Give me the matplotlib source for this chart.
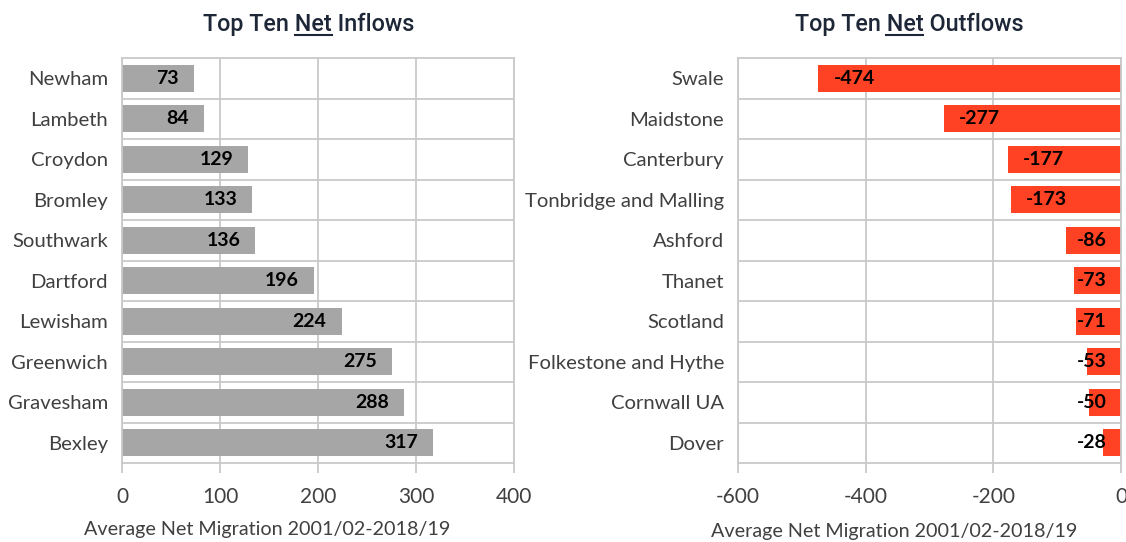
import matplotlib
matplotlib.use("Agg")
import matplotlib.pyplot as plt
import numpy as np

# data
in_names = ["Newham", "Lambeth", "Croydon", "Bromley", "Southwark",
            "Dartford", "Lewisham", "Greenwich", "Gravesham", "Bexley"]
in_vals = [73, 84, 129, 133, 136, 196, 224, 275, 288, 317]

out_names = ["Swale", "Maidstone", "Canterbury", "Tonbridge and Malling", "Ashford",
             "Thanet", "Scotland", "Folkestone and Hythe", "Cornwall UA", "Dover"]
out_vals = [-474, -277, -177, -173, -86, -73, -71, -53, -50, -28]

in_ticks = [0, 100, 200, 300, 400]
out_ticks = [-600, -400, -200, 0]
xlabel = "Average Net Migration 2001/02-2018/19"

W, H = 1126, 542
TXT = "#404040"
GRID = "#C9C9C9"
LBL_FONT = "Lato"
TITLE_FONT = "Roboto"
TSIZE = 16.8

fig = plt.figure(figsize=(W / 100, H / 100), dpi=100)


def px_ax(x0, x1, ytop, ybot):
    return fig.add_axes([x0 / W, 1 - ybot / H, (x1 - x0) / W, (ybot - ytop) / H])


def style(ax, names, ticks):
    n = len(names)
    ax.set_ylim(n - 0.5, -0.5)
    ax.set_yticks(range(n))
    ax.set_yticklabels(names, fontsize=14.6, color=TXT, family=LBL_FONT)
    ax.set_yticks(np.arange(0.5, n - 1, 1), minor=True)
    ax.set_xticks(ticks)
    ax.set_xticklabels([str(t) for t in ticks], fontsize=15, color=TXT, family=LBL_FONT)
    ax.grid(True, axis="x", color=GRID, lw=1.3, zorder=0)
    ax.grid(True, axis="y", which="minor", color=GRID, lw=1.3, zorder=0)
    ax.tick_params(axis="y", which="both", length=0, pad=10)
    ax.tick_params(axis="x", length=7, color=GRID, width=1.3, pad=10)
    for s in ax.spines.values():
        s.set_color(GRID)
        s.set_linewidth(1.3)
    ax.set_axisbelow(True)


def title_underlined(cx, cy, pre, mid, post):
    full = pre + mid + post
    t = fig.text(cx / W, 1 - cy / H, full, ha="center", va="center",
                 fontsize=TSIZE, family=TITLE_FONT, weight="medium", color="#1E2738")
    r = fig.canvas.get_renderer()
    bb = t.get_window_extent(r)
    def width(s):
        tmp = fig.text(0, 0, s, fontsize=TSIZE, family=TITLE_FONT, weight="medium")
        w = tmp.get_window_extent(r).width
        tmp.remove()
        return w
    x_end = bb.x0 + width(pre + mid)
    x_start = x_end - width(mid)
    y = bb.y0 + 1
    fig.add_artist(plt.Line2D([x_start / W, x_end / W], [y / H, y / H],
                              transform=fig.transFigure, color="#1E2738", lw=1.5))


# left panel: inflows
ax1 = px_ax(122, 514, 58, 463)
ax1.barh(range(len(in_vals)), in_vals, height=0.66, color="#A6A6A6", zorder=2)
ax1.set_xlim(0, 400)
style(ax1, in_names, in_ticks)
for i, v in enumerate(in_vals):
    ax1.annotate(str(v), (v, i), xytext=(-15, 0), textcoords="offset pixels",
                 ha="right", va="center", fontsize=14, weight="bold",
                 family=LBL_FONT, color="black", zorder=3)

# right panel: outflows
ax2 = px_ax(738, 1121, 58, 463)
ax2.barh(range(len(out_vals)), out_vals, height=0.66, color="#FF4124", zorder=2)
ax2.set_xlim(-600, 0)
style(ax2, out_names, out_ticks)
ppu = (1121 - 738) / 600.0
for i, v in enumerate(out_vals):
    bar_px = -v * ppu
    # label sits 15px inside the bar end, but no closer than 14px to zero
    lw_px = 31
    if bar_px - 15 - lw_px >= 14:
        ax2.annotate(str(v), (v, i), xytext=(15, 0), textcoords="offset pixels",
                     ha="left", va="center", fontsize=14, weight="bold",
                     family=LBL_FONT, color="black", zorder=3)
    else:
        ax2.annotate(str(v), (0, i), xytext=(-14, 0), textcoords="offset pixels",
                     ha="right", va="center", fontsize=14, weight="bold",
                     family=LBL_FONT, color="black", zorder=3)

fig.text(267 / W, 1 - 530 / H, xlabel, ha="center", va="center",
         fontsize=14.2, color=TXT, family=LBL_FONT)
fig.text(894 / W, 1 - 532 / H, xlabel, ha="center", va="center",
         fontsize=14.2, color=TXT, family=LBL_FONT)

title_underlined(309, 24, "Top Ten ", "Net", " Inflows")
title_underlined(909, 24, "Top Ten ", "Net", " Outflows")

fig.savefig("out.png", dpi=100)
